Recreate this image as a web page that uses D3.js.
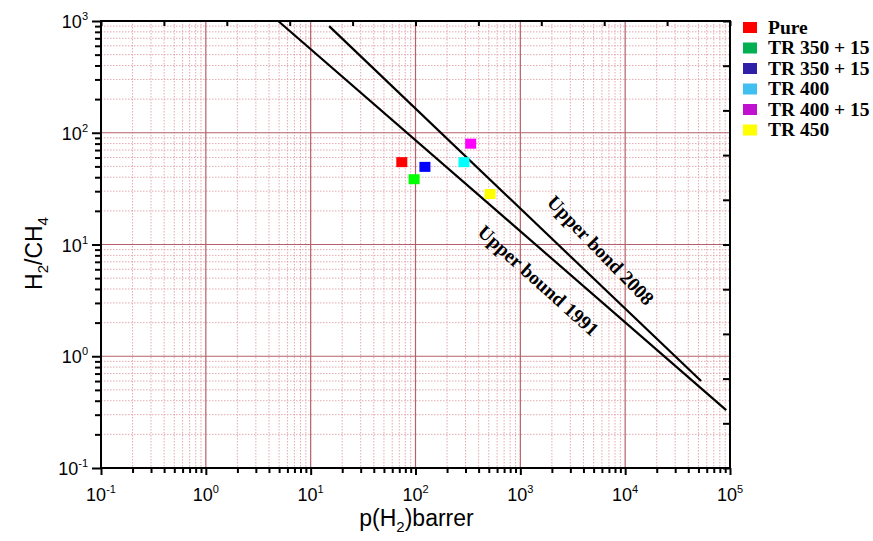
<!DOCTYPE html>
<html>
<head>
<meta charset="utf-8">
<script src="https://cdn.jsdelivr.net/npm/d3@7"></script>
<style>
  body { margin: 0; background: #fff; }
  text { font-family: "Liberation Sans", Arial, sans-serif; }
  text.serif { font-family: "Liberation Serif", "Times New Roman", serif; font-weight: bold; }
</style>
</head>
<body>
<div id="chart"></div>
<script>
// data
const seriesNames = ["Pure", "TR 350 + 15", "TR 350 + 15", "TR 400", "TR 400 + 15", "TR 450"];
const permeability = [74, 97, 123, 290, 336, 514];   // p(H2), barrer
const selectivity = [54, 38, 49, 54, 79, 28];        // H2/CH4
const markerColors = ["#ff0000", "#00ff00", "#0000ff", "#00ffff", "#ff00ff", "#ffff00"];
const legendColors = ["#ff0000", "#00b050", "#3020a8", "#40c0f0", "#c010d0", "#ffff00"];

const boundLabels = ["Upper bound 1991", "Upper bond 2008"];
const bound1991X = [4.9, 92000];
const bound1991Y = [1000, 0.33];
const bound2008X = [15, 53000];
const bound2008Y = [900, 0.6];
const boundLabelX = [1440, 5640];
const boundLabelY = [4.6, 8.6];

const xTickExps = [-1, 0, 1, 2, 3, 4, 5];
const yTickExps = [-1, 0, 1, 2, 3];

// set the dimensions and margins of the graph
const margin = {top: 21, right: 143, bottom: 73, left: 101},
    width = 873 - margin.left - margin.right,
    height = 541 - margin.top - margin.bottom;

const root = d3.select("#chart")
    .append("svg")
    .attr("width", 873)
    .attr("height", 541);
const svg = root.append("g")
    .attr("transform", `translate(${margin.left},${margin.top})`);

const x = d3.scaleLog().domain([0.1, 1e5]).range([0, width]);
const y = d3.scaleLog().domain([0.1, 1e3]).range([height, 0]);

// minor positions 2..9 in each decade
function minors(exps) {
    const out = [];
    exps.slice(0, -1).forEach(function (e) {
        for (let m = 2; m <= 9; m++) out.push(m * Math.pow(10, e));
    });
    return out;
}
const xMajor = xTickExps.map(e => Math.pow(10, e));
const yMajor = yTickExps.map(e => Math.pow(10, e));
const xMinor = minors(xTickExps);
const yMinor = minors(yTickExps);

// grid
const grid = svg.append("g");
grid.selectAll(".gxm").data(xMinor).join("line")
    .attr("x1", d => x(d)).attr("x2", d => x(d))
    .attr("y1", 0).attr("y2", height)
    .attr("stroke", "#e0a0a8").attr("stroke-width", 0.9)
    .attr("stroke-dasharray", "1.5,1.5");
grid.selectAll(".gym").data(yMinor).join("line")
    .attr("y1", d => y(d)).attr("y2", d => y(d))
    .attr("x1", 0).attr("x2", width)
    .attr("stroke", "#e0a0a8").attr("stroke-width", 0.9)
    .attr("stroke-dasharray", "1.5,1.5");
grid.selectAll(".gxM").data(xMajor).join("line")
    .attr("x1", d => x(d)).attr("x2", d => x(d))
    .attr("y1", 0).attr("y2", height)
    .attr("stroke", "#b4606a").attr("stroke-width", 1.2);
grid.selectAll(".gyM").data(yMajor).join("line")
    .attr("y1", d => y(d)).attr("y2", d => y(d))
    .attr("x1", 0).attr("x2", width)
    .attr("stroke", "#b4606a").attr("stroke-width", 1.2);

// bottom axis (outward ticks)
const bx = svg.append("g").attr("transform", `translate(0,${height})`);
bx.call(d3.axisBottom(x).tickValues(xMinor).tickSize(5).tickFormat(""));
bx.call(g => g.append("g").call(d3.axisBottom(x).tickValues(xMajor).tickSize(7).tickFormat("")));
bx.selectAll("path").remove();
bx.selectAll("line").attr("stroke", "#000").attr("stroke-width", 2);

// left axis (outward ticks)
const ly = svg.append("g");
ly.call(d3.axisLeft(y).tickValues(yMinor).tickSize(6).tickFormat(""));
ly.call(g => g.append("g").call(d3.axisLeft(y).tickValues(yMajor).tickSize(9).tickFormat("")));
ly.selectAll("path").remove();
ly.selectAll("line").attr("stroke", "#000").attr("stroke-width", 2);

// top and right: linear inward ticks
const xt = d3.scaleLinear().domain([0, 10]).range([0, width]);
const yt = d3.scaleLinear().domain([0, 10]).range([height, 0]);
svg.append("g").call(d3.axisBottom(xt).ticks(10).tickSize(5).tickFormat(""))
    .call(g => g.select("path").remove())
    .selectAll("line").attr("stroke", "#000").attr("stroke-width", 2);
svg.append("g").attr("transform", `translate(${width},0)`)
    .call(d3.axisLeft(yt).ticks(10).tickSize(7).tickFormat(""))
    .call(g => g.select("path").remove())
    .selectAll("line").attr("stroke", "#000").attr("stroke-width", 2);

// frame
svg.append("rect")
    .attr("width", width).attr("height", height)
    .attr("fill", "none").attr("stroke", "#000").attr("stroke-width", 2);

// tick labels 10^n
svg.selectAll(".xl").data(xTickExps).join("text")
    .attr("x", d => x(Math.pow(10, d)))
    .attr("y", height + 33)
    .attr("text-anchor", "middle")
    .attr("font-size", 18)
    .each(function (d) {
        const t = d3.select(this);
        t.append("tspan").text("10");
        t.append("tspan").attr("dy", -8).attr("font-size", 11).text(d);
    });
svg.selectAll(".yl").data(yTickExps).join("text")
    .attr("x", -13)
    .attr("y", d => y(Math.pow(10, d)) + 7)
    .attr("text-anchor", "end")
    .attr("font-size", 18)
    .each(function (d) {
        const t = d3.select(this);
        t.append("tspan").text("10");
        t.append("tspan").attr("dy", -8).attr("font-size", 11).text(d);
    });

// axis titles
const xTitle = svg.append("text")
    .attr("x", width / 2 + 1)
    .attr("y", height + 58)
    .attr("text-anchor", "middle")
    .attr("font-size", 23);
xTitle.append("tspan").text("p(H");
xTitle.append("tspan").attr("dy", 6).attr("font-size", 15).text("2");
xTitle.append("tspan").attr("dy", -6).text(")barrer");

const yTitle = svg.append("text")
    .attr("transform", `translate(${-59},${height / 2 + 9}) rotate(-90)`)
    .attr("text-anchor", "middle")
    .attr("font-size", 23);
yTitle.append("tspan").text("H");
yTitle.append("tspan").attr("dy", 6).attr("font-size", 15).text("2");
yTitle.append("tspan").attr("dy", -6).text("/CH");
yTitle.append("tspan").attr("dy", 6).attr("font-size", 15).text("4");

// upper bound lines
const plotArea = svg.append("g");
const bounds = [
    d3.zip(bound1991X, bound1991Y),
    d3.zip(bound2008X, bound2008Y)
];
const line = d3.line().x(d => x(d[0])).y(d => y(d[1]));
plotArea.selectAll(".bound").data(bounds).join("path")
    .attr("d", line)
    .attr("fill", "none")
    .attr("stroke", "#000")
    .attr("stroke-width", 2.2);

const labelAngles = [42, 46];
plotArea.selectAll(".blabel").data(boundLabels).join("text")
    .attr("class", "serif")
    .attr("transform", (d, i) => `translate(${x(boundLabelX[i])},${y(boundLabelY[i])}) rotate(${labelAngles[i]})`)
    .attr("text-anchor", "middle")
    .attr("dominant-baseline", "middle")
    .attr("font-size", 19.5)
    .text(d => d);

// data markers
const ms = 11;
plotArea.selectAll(".pt").data(permeability).join("rect")
    .attr("x", (d, i) => x(d) - ms / 2)
    .attr("y", (d, i) => y(selectivity[i]) - ms / 2)
    .attr("width", ms)
    .attr("height", ms - 1)
    .attr("fill", (d, i) => markerColors[i]);

// legend
const legend = root.append("g").attr("transform", "translate(743,22)");
const row = legend.selectAll("g").data(seriesNames).join("g")
    .attr("transform", (d, i) => `translate(0,${i * 20.5})`);
row.append("rect")
    .attr("width", 14).attr("height", 11)
    .attr("fill", (d, i) => legendColors[i]);
row.append("text")
    .attr("class", "serif")
    .attr("x", 25).attr("y", 11.5)
    .attr("font-size", 19.5)
    .text(d => d);
</script>
</body>
</html>
